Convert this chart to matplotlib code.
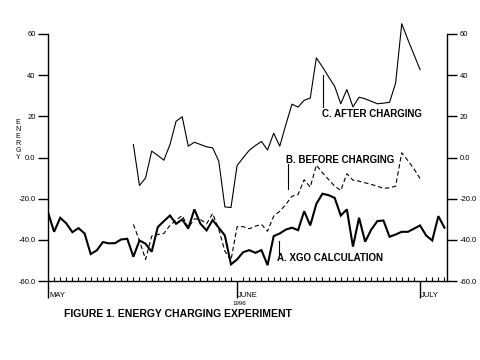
import numpy as np
import matplotlib.pyplot as plt

plt.rcParams['font.family'] = ['Liberation Sans', 'DejaVu Sans']

# days are counted from May 1 (day 0)
xgo_start = 0
xgo = [-26.6, -36.1, -29.3, -32.0, -36.3, -34.3, -36.9, -46.9, -45.1, -41.1,
       -41.7, -41.6, -39.8, -39.5, -48.2, -40.3, -41.9, -45.8, -33.8, -30.9,
       -28.2, -32.2, -30.1, -34.5, -25.2, -32.2, -35.4, -30.4, -34.1, -37.9,
       -51.9, -49.5, -46.0, -45.0, -46.3, -45.0, -52.3, -38.2, -36.9, -35.0,
       -34.1, -35.3, -26.1, -33.0, -22.5, -17.6, -18.3, -19.6, -28.2, -25.2,
       -43.3, -29.3, -40.9, -35.0, -30.9, -30.6, -38.5, -37.4, -36.1, -36.1,
       -34.6, -33.0, -37.9, -40.3, -28.5, -34.1]

before_start = 14
before = [-32.5, -40.5, -49.5, -38.2, -37.4, -36.9, -33.0, -30.4, -28.2, -34.1,
          -29.8, -30.1, -32.2, -27.2, -35.0, -45.5, -50.0, -33.6, -33.6, -34.6,
          -33.4, -32.5, -35.8, -28.5, -26.1, -22.8, -18.8, -18.0, -10.8, -14.4,
          -3.7, -7.4, -10.7, -13.9, -16.0, -7.9, -11.0, -11.5, -12.3, -13.1,
          -13.9, -15.0, -14.7, -13.9, 2.3, -1.5, -5.5, -10.2]

after_start = 14
after = [6.3, -13.6, -9.9, 3.1, 1.0, -1.3, 6.3, 17.6, 19.8, 5.5,
         7.4, 6.3, 5.2, 4.7, -1.8, -24.0, -24.3, -3.9, -0.1, 3.5,
         5.8, 7.8, 3.6, 11.8, 5.5, 16.0, 25.9, 24.5, 27.8, 28.9,
         48.4, 44.0, 39.2, 34.6, 26.1, 33.0, 24.6, 29.3, 28.5, 27.3,
         26.1, 26.4, 26.8, 36.2, 65.0, 57.3, 50.0, 42.7]

months = ['MAY', 'JUNE', 'JULY']
month_days = [0, 31, 61]
yticks = [-60, -40, -20, 0, 20, 40, 60]
ytick_labels = ['-60.0', '-40.0', '-20.0', '0.0', '20', '40', '60']

fig = plt.figure(figsize=(4.8, 3.6), dpi=100)
ax = fig.add_axes([0.1, 0.2194, 0.831, 0.6862])

d_a = np.arange(xgo_start, xgo_start + len(xgo))
d_b = np.arange(before_start, before_start + len(before))
d_c = np.arange(after_start, after_start + len(after))

ax.plot(d_a, xgo, color='black', lw=1.5, solid_joinstyle='miter')
ax.plot(d_b, before, color='black', lw=0.8, dashes=(4, 2.5))
ax.plot(d_c, after, color='black', lw=0.8, clip_on=False)

ax.set_xlim(0, 65.4)
ax.set_ylim(-60, 60)

ax.spines['top'].set_visible(False)
for s in ['left', 'right', 'bottom']:
    ax.spines[s].set_linewidth(1.0)

ax.set_yticks(yticks)
ax.set_yticklabels(ytick_labels)
ax.tick_params(axis='y', direction='out', length=7, width=1, labelsize=5.5,
               left=True, right=True, labelleft=True, labelright=True, pad=2)

ax.set_xticks(month_days)
ax.set_xticklabels([])
ax.set_xticks(np.arange(0, 66), minor=True)
ax.tick_params(axis='x', which='major', direction='out', length=12, width=1)
ax.tick_params(axis='x', which='minor', direction='in', length=3, width=0.8)

trans = ax.get_xaxis_transform()
for m, d in zip(months, month_days):
    ax.text(d + 0.2, -0.045, m, transform=trans, fontsize=5.5, ha='left', va='top')
ax.text(31.3, -0.082, '1996', transform=trans, fontsize=4.5, ha='center', va='top')

# labels with leader lines
ax.plot([45.1, 45.1], [40.3, 24.3], color='black', lw=0.8)
ax.text(44.9, 20.9, 'C. AFTER CHARGING', fontsize=7, fontweight='bold', va='center')
ax.plot([39.4, 39.4], [-3.4, -15.5], color='black', lw=0.8)
ax.text(39.1, -1.0, 'B. BEFORE CHARGING', fontsize=7, fontweight='bold', va='center')
ax.plot([37.9, 37.9], [-40.6, -47.1], color='black', lw=0.8)
ax.text(37.6, -48.7, 'A. XGO CALCULATION', fontsize=7, fontweight='bold', va='center')

fig.text(0.0375, 0.611, 'E\nN\nE\nR\nG\nY', fontsize=5, ha='center', va='center',
         linespacing=1.0)
fig.text(0.37, 0.128, 'FIGURE 1. ENERGY CHARGING EXPERIMENT', fontsize=7.5,
         fontweight='bold', ha='center', va='center')

fig.savefig('out.png', dpi=100)
